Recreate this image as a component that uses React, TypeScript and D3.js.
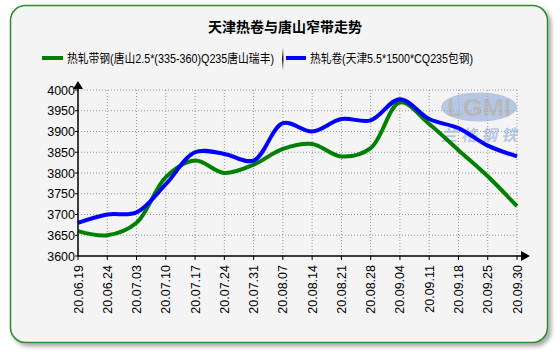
import React from "react";
import * as d3 from "d3";

const dates = ["20.06.19","20.06.24","20.07.03","20.07.10","20.07.17","20.07.24","20.07.31","20.08.07","20.08.14","20.08.21","20.08.28","20.09.04","20.09.11","20.09.18","20.09.25","20.09.30"];
const greenValues = [3660,3650,3680,3790,3830,3800,3820,3858,3870,3840,3860,3970,3918,3855,3792,3720];
const blueValues = [3680,3700,3705,3773,3850,3846,3830,3920,3900,3930,3927,3978,3930,3908,3866,3840];
const yTicks = [3600,3650,3700,3750,3800,3850,3900,3950,4000];
const title = "天津热卷与唐山窄带走势";
const seriesNames = ["热轧带钢(唐山2.5*(335-360)Q235唐山瑞丰)", "热轧卷(天津5.5*1500*CQ235包钢)"];

const W = 560, H = 355;
const left = 78, right = 517, top = 90, bottom = 256;
const font = "'Liberation Sans', Arial, 'Noto Sans CJK SC', sans-serif";

export default function App() {
  const x = d3.scalePoint<string>().domain(dates).range([left, right]);
  const y = d3.scaleLinear().domain([3600, 4000]).range([bottom, top]);
  const line = d3.line<number>()
    .x((_, i) => x(dates[i]) as number)
    .y((d) => y(d))
    .curve(d3.curveCatmullRom.alpha(0.5));

  return (
    <svg width={W} height={H} style={{ position: "absolute", left: 0, top: 0 }} fontFamily={font}>
      <defs>
        <filter id="sh" x="-5%" y="-5%" width="115%" height="115%">
          <feDropShadow dx="3" dy="3" stdDeviation="2" floodColor="#000" floodOpacity="0.35" />
        </filter>
        <linearGradient id="sep" x1="0" y1="0" x2="0" y2="1">
          <stop offset="0" stopColor="#fff" />
          <stop offset="0.5" stopColor="#111" />
          <stop offset="1" stopColor="#fff" />
        </linearGradient>
      </defs>
      <rect x={0} y={0} width={W} height={H} fill="#fff" />
      <rect x={10.5} y={5.5} width={537} height={337} rx={15} ry={15} fill="#f4f4f4" stroke="#2e8b2e" strokeWidth={1.5} filter="url(#sh)" />

      <text x={285} y={32} textAnchor="middle" fontSize={14} fontWeight="bold" fill="#000">{title}</text>

      {/* legend */}
      <line x1={42} x2={63} y1={58} y2={58} stroke="#008000" strokeWidth={4} />
      <text x={67} y={62.5} fontSize={12.5} fill="#000" textLength={207} lengthAdjust="spacingAndGlyphs">{seriesNames[0]}</text>
      <rect x={282} y={47} width={1.5} height={24} fill="url(#sep)" />
      <line x1={286} x2={306} y1={58} y2={58} stroke="#0000ff" strokeWidth={4} />
      <text x={310} y={62.5} fontSize={12.5} fill="#000" textLength={163} lengthAdjust="spacingAndGlyphs">{seriesNames[1]}</text>

      {/* grid */}
      {yTicks.filter((t) => t !== 3600).map((t) => (
        <line key={"gy" + t} x1={left} x2={right} y1={y(t)} y2={y(t)} stroke="#999" strokeDasharray="1,2" />
      ))}
      {dates.slice(1).map((d) => (
        <line key={"gx" + d} x1={x(d)} x2={x(d)} y1={top} y2={bottom} stroke="#999" strokeDasharray="1,2" />
      ))}

      {/* watermark */}
      <g opacity={0.7}>
        <ellipse cx={479} cy={107} rx={38} ry={14.5} fill="#9bb5de" />
        <text x={479} y={116} textAnchor="middle" fontSize={24} fontWeight="bold" fill="#a0a0a0" textLength={64} lengthAdjust="spacingAndGlyphs">LGMI</text>
        <text x={479} y={141} textAnchor="middle" fontSize={16} fontStyle="italic" fontWeight="bold" fill="#9bb5de" textLength={76} lengthAdjust="spacing">兰格钢铁</text>
      </g>

      {/* series */}
      <path d={line(greenValues) || ""} fill="none" stroke="#008000" strokeWidth={4} strokeLinejoin="round" />
      <path d={line(blueValues) || ""} fill="none" stroke="#0000ff" strokeWidth={4} strokeLinejoin="round" />

      {/* axes */}
      <line x1={left} x2={left} y1={bottom} y2={top - 4} stroke="#000" strokeWidth={1.5} />
      <path d={`M${left - 5},${top - 1} L${left},${top - 9} L${left + 5},${top - 1} Z`} fill="#000" />
      <line x1={left} x2={right + 6} y1={bottom} y2={bottom} stroke="#000" strokeWidth={1.5} />
      <path d={`M${right + 4},${bottom - 5} L${right + 13},${bottom} L${right + 4},${bottom + 5} Z`} fill="#000" />

      {yTicks.map((t) => (
        <g key={"yt" + t}>
          <line x1={left - 3} x2={left} y1={y(t)} y2={y(t)} stroke="#000" />
          <text x={left - 3} y={y(t) + 4.5} textAnchor="end" fontSize={12.5} fill="#000">{t}</text>
        </g>
      ))}
      {dates.map((d) => (
        <g key={"xt" + d}>
          <line x1={x(d)} x2={x(d)} y1={bottom} y2={bottom + 4} stroke="#000" />
          <text transform={`translate(${(x(d) as number) + 4.5},${bottom + 9}) rotate(-90)`} textAnchor="end" fontSize={12.5} fill="#000">{d}</text>
        </g>
      ))}
    </svg>
  );
}
